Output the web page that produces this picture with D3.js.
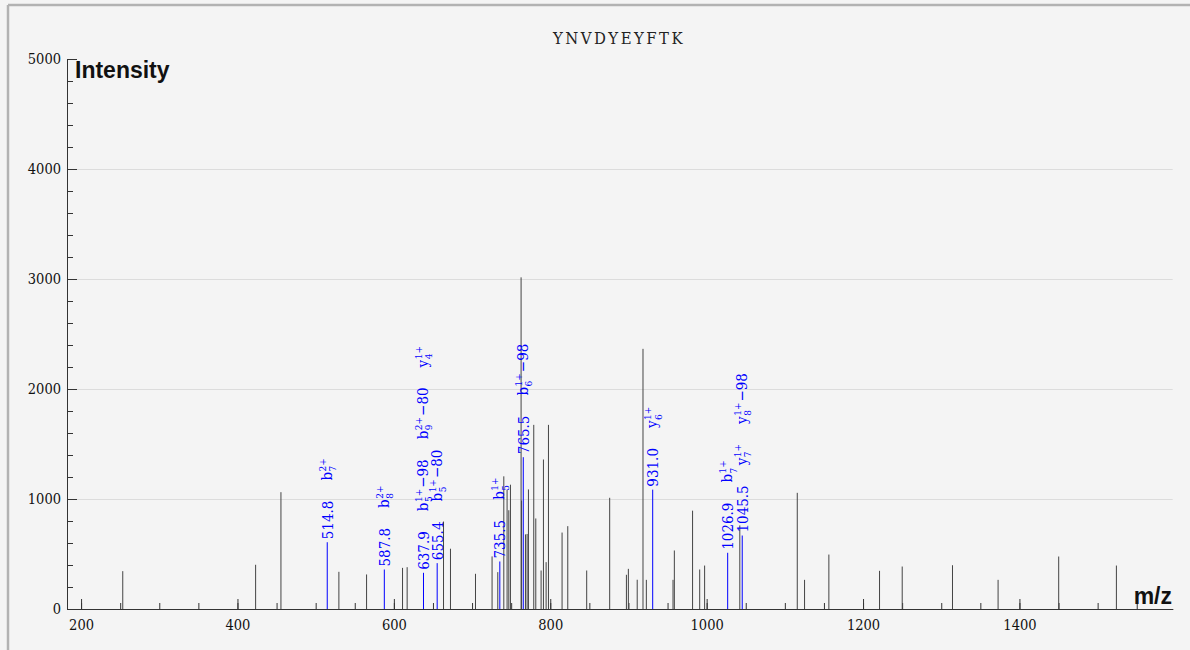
<!DOCTYPE html>
<html>
<head>
<meta charset="utf-8">
<script src="https://cdn.jsdelivr.net/npm/d3@7"></script>
<style>
  body { margin: 0; background: #f4f4f4; }
  .tick text { font-family: "DejaVu Serif", serif; font-stretch: condensed; font-size: 14.5px; fill: #111; }
  .axis path, .axis line { stroke: #333; }
  .grid line { stroke: #dcdcdc; }
  .grid path { display: none; }
</style>
</head>
<body>
<div id="grafica"></div>
<script>
// Datos del espectro
const titulo = "YNVDYEYFTK"

// picos sin anotar (m/z, intensidad)
const picosMz = [253.3, 423.2, 455.6, 529.7, 565.1, 611.1, 617.0, 663.5, 672.4, 704.4,
    725.6, 732.9, 740.6, 744.8, 747.0, 749.1, 762.7, 763.3, 768.3, 770.4,
    772.1, 778.9, 781.5, 788.3, 791.3, 794.7, 797.7, 815.1, 822.4, 846.6,
    876.0, 897.4, 899.9, 911.2, 918.6, 922.9, 957.0, 958.7, 982.0, 991.1,
    997.4, 1042.4, 1115.9, 1125.2, 1156.3, 1221.1, 1250.1, 1314.4, 1372.7, 1450.2,
    1524.0]
const picosInt = [344, 402, 1062, 338, 314, 374, 380, 795, 548, 320,
    478, 335, 1206, 1085, 898, 1130, 3015, 986, 678, 682,
    1087, 1674, 823, 350, 1359, 426, 1674, 695, 753, 350,
    1011, 311, 365, 266, 2365, 265, 265, 532, 894, 359,
    395, 760, 1056, 265, 495, 347, 386, 398, 265, 477,
    395]

// picos anotados
const anotMz = [514.8, 587.8, 637.9, 655.4, 735.5, 765.5, 931.0, 1026.9, 1045.5]
const anotInt = [607, 359, 329, 417, 432, 1380, 1085, 511, 668]
const anotEtiq = ["514.8", "587.8", "637.9", "655.4", "735.5", "765.5", "931.0", "1026.9", "1045.5"]
// ion, subindice, carga, perdida
const anotIones = [
    [["b", "7", "2+", ""]],
    [["b", "8", "2+", ""]],
    [["b", "5", "1+", "\u221298"], ["b", "9", "2+", "\u221280"], ["y", "4", "1+", ""]],
    [["b", "5", "1+", "\u221280"]],
    [["b", "5", "1+", ""]],
    [["b", "6", "1+", "\u221298"]],
    [["y", "6", "1+", ""]],
    [["b", "7", "1+", ""]],
    [["y", "7", "1+", ""], ["y", "8", "1+", "\u221298"]],
]

const ticksX = [200, 400, 600, 800, 1000, 1200, 1400]
const ticksY = [0, 1000, 2000, 3000, 4000, 5000]
const gridY = [1000, 2000, 3000, 4000]

const anchoTotal = 1190
const altoTotal = 650

const svg = d3.select("#grafica").append("svg")
    .attr("width", anchoTotal)
    .attr("height", altoTotal)

// marco
svg.append("line").attr("x1", 8).attr("x2", anchoTotal).attr("y1", 5).attr("y2", 5)
    .attr("stroke", "#b2b2b2").attr("stroke-width", 2.5)
svg.append("line").attr("x1", 8).attr("x2", 8).attr("y1", 5).attr("y2", altoTotal)
    .attr("stroke", "#b2b2b2").attr("stroke-width", 2.5)

// Escaladores
const x = d3.scaleLinear().domain([182, 1596]).range([67, 1172.7])
const y = d3.scaleLinear().domain([0, 5000]).range([609, 59])

// grid
svg.append("g")
    .attr("class", "grid")
    .attr("transform", "translate(67,0)")
    .call(d3.axisLeft(y).tickValues(gridY).tickSize(-(1172.7 - 67)).tickFormat(""))

// Ejes menores
svg.append("g")
    .attr("class", "axis")
    .attr("transform", "translate(0,609)")
    .call(d3.axisBottom(x).tickValues(d3.range(200, 1596, 50)).tickSize(-6).tickSizeOuter(0).tickFormat(""))
svg.append("g")
    .attr("class", "axis")
    .attr("transform", "translate(67,0)")
    .call(d3.axisLeft(y).tickValues(d3.range(0, 5001, 200)).tickSize(-6).tickSizeOuter(0).tickFormat(""))

// Ejes principales
svg.append("g")
    .attr("class", "axis")
    .attr("transform", "translate(0,609)")
    .call(d3.axisBottom(x).tickValues(ticksX).tickSize(-10).tickSizeOuter(0).tickPadding(11).tickFormat(d3.format("d")))
svg.append("g")
    .attr("class", "axis")
    .attr("transform", "translate(67,0)")
    .call(d3.axisLeft(y).tickValues(ticksY).tickSize(-10).tickSizeOuter(0).tickPadding(6).tickFormat(d3.format("d")))

// Picos grises
svg.append("g").selectAll("line")
    .data(picosMz)
    .join("line")
    .attr("x1", d => x(d))
    .attr("x2", d => x(d))
    .attr("y1", y(0))
    .attr("y2", (d, i) => y(picosInt[i]))
    .attr("stroke", "#444")
    .attr("stroke-width", 1)

// Picos anotados
svg.append("g").selectAll("line")
    .data(anotMz)
    .join("line")
    .attr("x1", d => x(d))
    .attr("x2", d => x(d))
    .attr("y1", y(0))
    .attr("y2", (d, i) => y(anotInt[i]))
    .attr("stroke", "#0000ff")
    .attr("stroke-width", 1)

const fuente = "DejaVu Serif"
anotMz.forEach((mz, i) => {
    const g = svg.append("g")
        .attr("transform", `translate(${x(mz)},${y(anotInt[i]) - 3}) rotate(-90)`)
        .attr("fill", "#0000ff")
        .style("font-family", fuente)
        .style("font-stretch", "condensed")

    const val = g.append("text")
        .attr("x", 0).attr("y", 5.5)
        .style("font-size", "15px")
        .text(anotEtiq[i])
    let pos = val.node().getComputedTextLength() + 20

    anotIones[i].forEach(ion => {
        const base = g.append("text").attr("x", pos).attr("y", 4.5)
            .style("font-size", "15px").text(ion[0])
        const w = base.node().getComputedTextLength() + 0.5
        const sub = g.append("text").attr("x", pos + w).attr("y", 9)
            .style("font-size", "10px").text(ion[1])
        const sup = g.append("text").attr("x", pos + w).attr("y", -1.5)
            .style("font-size", "10px").text(ion[2])
        let w2 = Math.max(sub.node().getComputedTextLength(), sup.node().getComputedTextLength())
        let total = w + w2
        if (ion[3] !== "") {
            const per = g.append("text").attr("x", pos + total + 1).attr("y", 4.5)
                .style("font-size", "15px").text(ion[3])
            total += 1 + per.node().getComputedTextLength()
        }
        pos += total + 20
    })
})

// Titulos
svg.append("text")
    .attr("x", 619).attr("y", 44)
    .attr("text-anchor", "middle")
    .style("font-family", "DejaVu Serif, serif")
    .style("font-stretch", "condensed")
    .style("font-size", "16.5px")
    .style("letter-spacing", "2.5px")
    .attr("fill", "#222")
    .text(titulo)

svg.append("text")
    .attr("x", 75).attr("y", 78)
    .style("font-family", "Liberation Sans, Arial, sans-serif")
    .style("font-weight", "bold")
    .style("font-size", "23px")
    .attr("fill", "#111")
    .text("Intensity")

svg.append("text")
    .attr("x", 1172).attr("y", 604)
    .attr("text-anchor", "end")
    .style("font-family", "Liberation Sans, Arial, sans-serif")
    .style("font-weight", "bold")
    .style("font-size", "23px")
    .attr("fill", "#111")
    .text("m/z")
</script>
</body>
</html>
